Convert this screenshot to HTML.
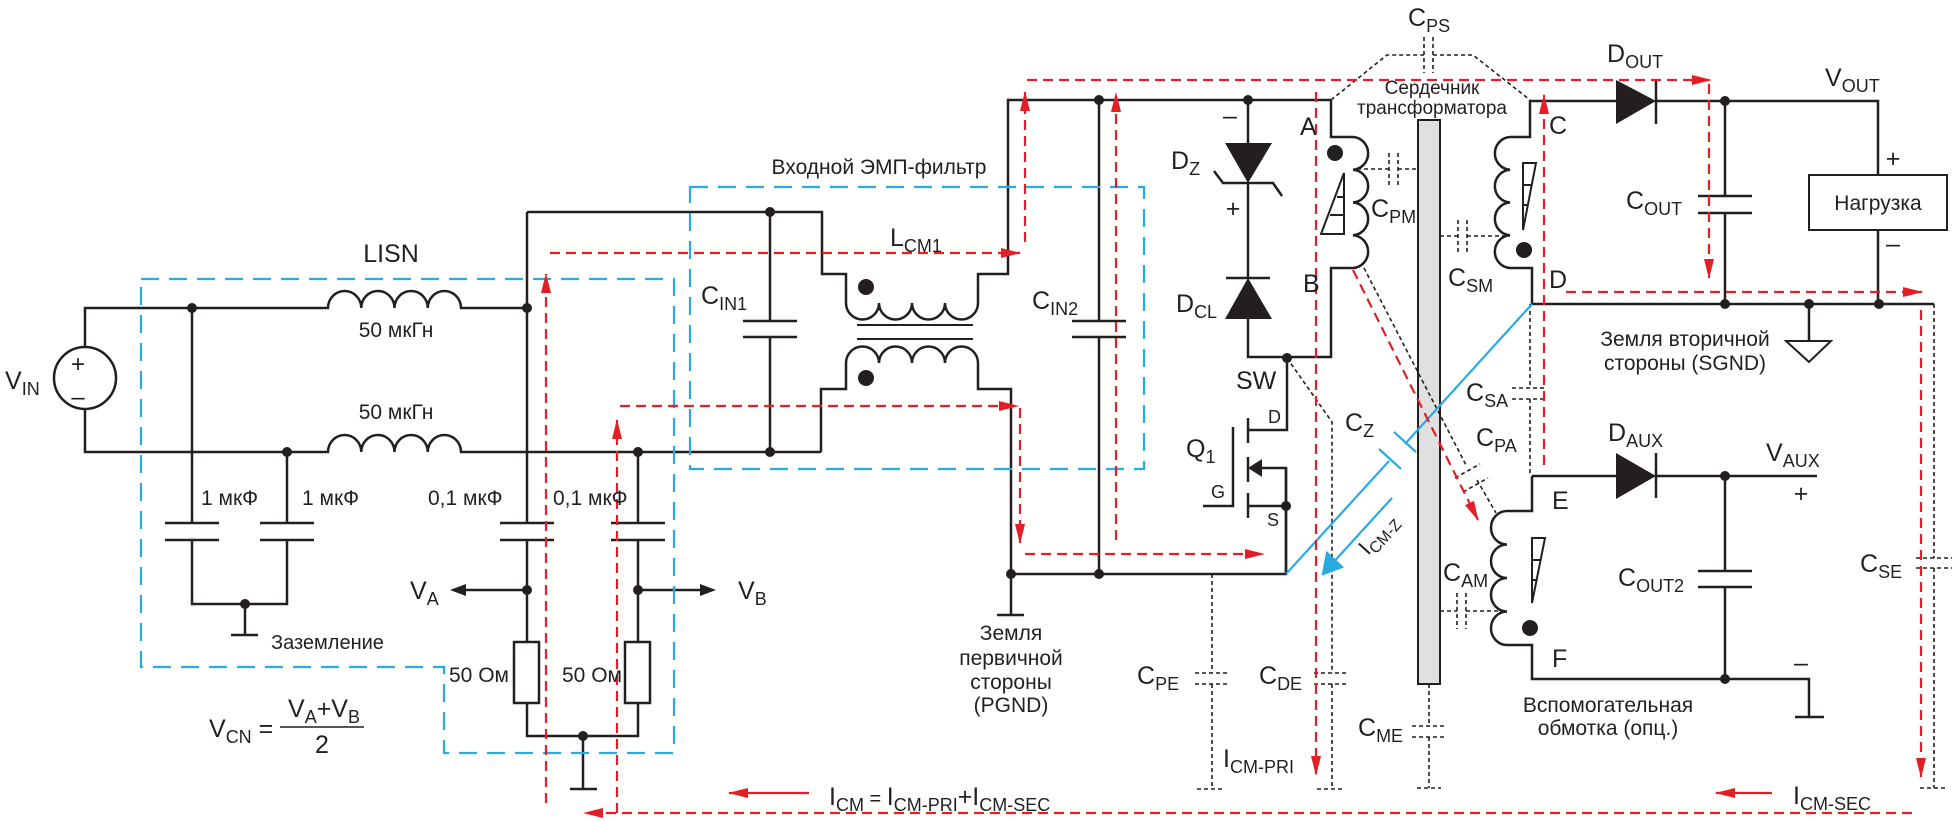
<!DOCTYPE html>
<html><head><meta charset="utf-8"><style>
html,body{margin:0;padding:0;background:#fff}
svg{display:block}
text{font-family:"Liberation Sans","Noto Sans CJK SC",sans-serif;fill:#231f20}
</style></head><body>
<svg width="1954" height="821" viewBox="0 0 1954 821" xmlns="http://www.w3.org/2000/svg">
<defs>
<marker id="ar" viewBox="0 0 20 10" refX="19" refY="5" markerWidth="20" markerHeight="11" markerUnits="userSpaceOnUse" orient="auto"><path d="M0,0 L20,5 L0,10z" fill="#e31e24"/></marker>
</defs>
<g fill="none" stroke="#231f20" stroke-width="2.5">
<circle cx="85" cy="378" r="31"/>
<path d="M85,347 V308 H328 a16.6,17 0 0 1 33.25,0 a16.6,17 0 0 1 33.25,0 a16.6,17 0 0 1 33.25,0 a16.6,17 0 0 1 33.25,0 H527"/>
<path d="M85,409 V452 H328 a16.6,17 0 0 1 33.25,0 a16.6,17 0 0 1 33.25,0 a16.6,17 0 0 1 33.25,0 a16.6,17 0 0 1 33.25,0 H821"/>
<path d="M192,308 V523 M165,523 H219 M165,540 H219 M192,540 V604 H287 V540 M260,540 H314 M260,523 H314 M287,523 V452"/>
<path d="M245,604 V635 M231,635 H258"/>
<path d="M527,212 V523 M500,523 H554 M500,540 H554 M527,540 V642"/>
<path d="M638,452 V523 M611,523 H665 M611,540 H665 M638,540 V642"/>
<rect x="514" y="642" width="25" height="61"/>
<rect x="625" y="642" width="25" height="61"/>
<path d="M527,703 V736 H638 V703 M583,736 V789 M570,789 H597"/>
<path d="M527,590 H462 M638,590 H704"/>
<path d="M527,212 H822 V274 H846 V303 a16.5,16.5 0 0 0 33,0 a16.5,16.5 0 0 0 33,0 a16.5,16.5 0 0 0 33,0 a16.5,16.5 0 0 0 33,0 V274 H1008 V100 H1331"/>
<path d="M770,212 V321 M743,321 H797 M743,337 H797 M770,337 V452"/>
<path d="M857,325 H973 M857,339 H973" stroke-width="2"/>
<path d="M821,452 V389 H846 V363 a16.5,16.5 0 0 1 33,0 a16.5,16.5 0 0 1 33,0 a16.5,16.5 0 0 1 33,0 a16.5,16.5 0 0 1 33,0 V389 H1011 V574 H1286 V468"/>
<path d="M1099,100 V321 M1072,321 H1126 M1072,337 H1126 M1099,337 V574"/>
<path d="M1011,574 V615 M997,615 H1024"/>
<path d="M1248,100 V143 M1248,183 V278 M1248,319 V357 H1331 V268 H1353 a16,16.4 0 0 0 0,-32.75 a16,16.4 0 0 0 0,-32.75 a16,16.4 0 0 0 0,-32.75 a16,16.4 0 0 0 0,-32.75 H1331 V100"/>
<path d="M1214,171 L1223,183 H1273 L1282,196 M1226,278 H1270"/>
<path d="M1287,358 V430 H1248 M1248,418 V443 M1248,457 V482 M1248,493 V518 M1233,427 V506 H1203 M1248,506 H1286 M1256,468 H1286 V574"/>
<path d="M1725,101 H1878 V175 M1878,230 V304 M1532,304 H1934"/>
<path d="M1530,100 V137 H1510 a16,16.4 0 0 0 0,32.75 a16,16.4 0 0 0 0,32.75 a16,16.4 0 0 0 0,32.75 a16,16.4 0 0 0 0,32.75 H1532 V304"/>
<path d="M1530,101 H1616 M1656,101 H1725 M1656,80 V124"/>
<path d="M1725,101 V196 M1698,196 H1752 M1698,213 H1752 M1725,213 V304"/>
<rect x="1809" y="175" width="138" height="55" stroke-width="2"/>
<path d="M1809,304 V341"/>
<path d="M1786,341 H1831 L1809,362 Z" stroke-width="2"/>
<path d="M1532,476 H1616 M1656,476 H1817 M1656,453 V498"/>
<path d="M1532,476 V511 H1507 a16,16.75 0 0 0 0,33.5 a16,16.75 0 0 0 0,33.5 a16,16.75 0 0 0 0,33.5 a16,16.75 0 0 0 0,33.5 H1532 V679 H1809 V717 M1795,717 H1824"/>
<path d="M1725,476 V571 M1698,571 H1752 M1698,587 H1752 M1725,587 V679"/>
</g>
<g fill="#231f20">
<path d="M1225,143 H1272 L1248,183 Z"/>
<path d="M1225,319 H1272 L1248,278 Z"/>
<path d="M1616,80 V124 L1656,101 Z"/>
<path d="M1616,453 V499 L1656,476 Z"/>
<path d="M1248,468 L1262,459 V477 Z"/>
<path d="M450,590 L466,584 V596 Z"/>
<path d="M716,590 L700,584 V596 Z"/>
<circle cx="866" cy="287" r="8"/><circle cx="866" cy="378" r="8"/>
<circle cx="1335" cy="153" r="8"/><circle cx="1524" cy="250" r="8"/><circle cx="1530" cy="628" r="8"/>
<circle cx="192" cy="308" r="5"/><circle cx="527" cy="308" r="5"/><circle cx="287" cy="452" r="5"/>
<circle cx="527" cy="590" r="5"/><circle cx="638" cy="452" r="5"/><circle cx="638" cy="590" r="5"/>
<circle cx="583" cy="736" r="5"/><circle cx="245" cy="604" r="5"/><circle cx="770" cy="212" r="5"/>
<circle cx="770" cy="452" r="5"/><circle cx="1011" cy="574" r="5"/><circle cx="1099" cy="574" r="5"/>
<circle cx="1099" cy="100" r="5"/><circle cx="1248" cy="100" r="5"/><circle cx="1287" cy="358" r="5"/>
<circle cx="1286" cy="506" r="5"/><circle cx="1725" cy="101" r="5"/><circle cx="1725" cy="304" r="5"/>
<circle cx="1809" cy="304" r="5"/><circle cx="1879" cy="304" r="5"/><circle cx="1725" cy="476" r="5"/>
<circle cx="1725" cy="679" r="5"/>
</g>
<rect x="1418" y="120" width="22" height="564" fill="#e0e0e0" stroke="#231f20" stroke-width="2"/>
<g fill="none" stroke="#231f20" stroke-width="2">
<path d="M1344,173 V234 H1321 Z M1330,215 H1344 M1337,197 H1344"/>
<path d="M1523,163 H1536 L1523,230 Z M1523,185 H1532 M1523,205 H1528"/>
<path d="M1532,538 H1545 L1532,603 Z M1532,560 H1541 M1532,580 H1537"/>
</g>
<g fill="none" stroke="#231f20" stroke-width="1.6" stroke-dasharray="4 3">
<path d="M1331,100 L1387,55 H1424 M1433,55 H1473 L1530,100"/>
<path d="M1424,37 V73 M1433,37 V73"/>
<path d="M1357,169 H1389 M1398,169 H1418 M1389,153 V187 M1398,153 V187"/>
<path d="M1440,236 H1458 M1467,236 H1510 M1458,220 V253 M1467,220 V253"/>
<path d="M1440,611 H1457 M1466,611 H1507 M1457,593 V629 M1466,593 V629"/>
<path d="M1429,684 V726 M1429,737 V788 M1412,726 H1446 M1412,737 H1446 M1417,788 H1441"/>
<path d="M1287,358 L1332,422 V673 M1332,684 V789 M1314,673 H1348 M1314,684 H1348 M1317,789 H1345"/>
<path d="M1212,574 V673 M1212,684 V789 M1195,673 H1229 M1195,684 H1229 M1197,789 H1225"/>
<path d="M1530,304 V388 M1530,399 V476 M1512,388 H1547 M1512,399 H1547"/>
<path d="M1364,268 L1467,467 M1477,480 L1496,513 M1455,478 L1480,464 M1463,492 L1488,478"/>
<path d="M1934,304 V558 M1934,568 V788 M1916,558 H1952 M1916,568 H1952 M1920,788 H1948"/>
</g>
<g fill="none" stroke="#29aae1" stroke-width="2.2">
<path d="M1532,304 L1405,444 M1389,461 L1286,574"/>
<path d="M1394,432 L1416,452 M1379,449 L1401,469"/>
<path d="M1392,498 L1330,566"/>
<path d="M1323,574 L1327,553 L1342,567 Z" fill="#29aae1"/>
</g>
<g fill="none" stroke="#29aae1" stroke-width="2.2" stroke-dasharray="18 10">
<path d="M141,279 H674 V753 H444 V667 H141 Z"/>
<path d="M690,187 H1144 V469 H690 Z"/>
</g>
<g fill="none" stroke="#e31e24" stroke-width="2.2" stroke-dasharray="10 6">
<path d="M546,803 V274" marker-end="url(#ar)"/>
<path d="M550,253 H1020" marker-end="url(#ar)"/>
<path d="M1025,242 V92" marker-end="url(#ar)"/>
<path d="M1027,80 H1711" marker-end="url(#ar)"/>
<path d="M617,813 V420" marker-end="url(#ar)"/>
<path d="M620,406 H1018" marker-end="url(#ar)"/>
<path d="M1020,408 V543" marker-end="url(#ar)"/>
<path d="M1025,554 H1264" marker-end="url(#ar)"/>
<path d="M1116,540 V93" marker-end="url(#ar)"/>
<path d="M1316,92 V775" marker-end="url(#ar)"/>
<path d="M1353,270 L1478,520" marker-end="url(#ar)"/>
<path d="M1544,465 V95" marker-end="url(#ar)"/>
<path d="M1709,84 V278" marker-end="url(#ar)"/>
<path d="M1566,292 H1922" marker-end="url(#ar)"/>
<path d="M1921,310 V777" marker-end="url(#ar)"/>
<path d="M1912,813 H584" marker-end="url(#ar)"/>
</g>
<g fill="none" stroke="#e31e24" stroke-width="2.2">
<path d="M809,793 H729" marker-end="url(#ar)"/>
<path d="M1772,793 H1716" marker-end="url(#ar)"/>
</g>
<g font-size="25">
<text x="5" y="389">V<tspan font-size="18" dy="6">IN</tspan></text>
<text x="78" y="372" font-size="24" text-anchor="middle">+</text>
<text x="78" y="405" font-size="24" text-anchor="middle">–</text>
<text x="410" y="599">V<tspan font-size="18" dy="6">A</tspan></text>
<text x="738" y="599">V<tspan font-size="18" dy="6">B</tspan></text>
<text x="209" y="737">V<tspan font-size="18" dy="6">CN</tspan><tspan dy="-6"> =</tspan></text>
<text x="324" y="717" text-anchor="middle">V<tspan font-size="18" dy="6">A</tspan><tspan dy="-6">+V</tspan><tspan font-size="18" dy="6">B</tspan></text>
<text x="322" y="753" text-anchor="middle">2</text>
<text x="701" y="304">C<tspan font-size="18" dy="6">IN1</tspan></text>
<text x="890" y="246">L<tspan font-size="18" dy="6">CM1</tspan></text>
<text x="1032" y="309">C<tspan font-size="18" dy="6">IN2</tspan></text>
<text x="1137" y="684">C<tspan font-size="18" dy="6">PE</tspan></text>
<text x="1259" y="684">C<tspan font-size="18" dy="6">DE</tspan></text>
<text x="1358" y="736">C<tspan font-size="18" dy="6">ME</tspan></text>
<text x="1236" y="389">SW</text>
<text x="1186" y="457">Q<tspan font-size="18" dy="6">1</tspan></text>
<text x="1171" y="169">D<tspan font-size="18" dy="6">Z</tspan></text>
<text x="1176" y="312">D<tspan font-size="18" dy="6">CL</tspan></text>
<text x="1230" y="124" text-anchor="middle">–</text>
<text x="1233" y="217" text-anchor="middle">+</text>
<text x="1300" y="135">A</text>
<text x="1303" y="292">B</text>
<text x="1408" y="26">C<tspan font-size="18" dy="6">PS</tspan></text>
<text x="1371" y="217">C<tspan font-size="18" dy="6">PM</tspan></text>
<text x="1448" y="286">C<tspan font-size="18" dy="6">SM</tspan></text>
<text x="1549" y="134">C</text>
<text x="1549" y="288">D</text>
<text x="1607" y="62">D<tspan font-size="18" dy="6">OUT</tspan></text>
<text x="1825" y="86">V<tspan font-size="18" dy="6">OUT</tspan></text>
<text x="1626" y="209">C<tspan font-size="18" dy="6">OUT</tspan></text>
<text x="1893" y="167" text-anchor="middle">+</text>
<text x="1893" y="252" text-anchor="middle">–</text>
<text x="1466" y="401">C<tspan font-size="18" dy="6">SA</tspan></text>
<text x="1476" y="446">C<tspan font-size="18" dy="6">PA</tspan></text>
<text x="1608" y="441">D<tspan font-size="18" dy="6">AUX</tspan></text>
<text x="1766" y="461">V<tspan font-size="18" dy="6">AUX</tspan></text>
<text x="1801" y="502" text-anchor="middle">+</text>
<text x="1552" y="509">E</text>
<text x="1618" y="586">C<tspan font-size="18" dy="6">OUT2</tspan></text>
<text x="1801" y="671" text-anchor="middle">–</text>
<text x="1443" y="581">C<tspan font-size="18" dy="6">AM</tspan></text>
<text x="1552" y="667">F</text>
<text x="1860" y="572">C<tspan font-size="18" dy="6">SE</tspan></text>
<text x="1223" y="767" fill="#e31e24">I<tspan font-size="18" dy="6">CM-PRI</tspan></text>
<text x="829" y="805" fill="#e31e24">I<tspan font-size="18" dy="6">CM</tspan><tspan font-size="20" dy="-6"> = </tspan>I<tspan font-size="18" dy="6">CM-PRI</tspan><tspan dy="-6">+I</tspan><tspan font-size="18" dy="6">CM-SEC</tspan></text>
<text x="1793" y="804" fill="#e31e24">I<tspan font-size="18" dy="6">CM-SEC</tspan></text>
<text x="1345" y="431" fill="#29aae1">C<tspan font-size="18" dy="6">Z</tspan></text>
<text transform="translate(1368,556) rotate(-48)" font-size="22" fill="#29aae1">I<tspan font-size="16" dy="5">CM-Z</tspan></text>
</g>
<g font-size="18">
<text x="1268" y="423">D</text>
<text x="1211" y="498">G</text>
<text x="1267" y="526">S</text>
</g>
<g font-size="21">
<text x="391" y="262" font-size="25" text-anchor="middle" fill="#29aae1">LISN</text>
<text x="396" y="337" text-anchor="middle">50 мкГн</text>
<text x="396" y="419" text-anchor="middle">50 мкГн</text>
<text x="201" y="505">1 мкФ</text>
<text x="302" y="505">1 мкФ</text>
<text x="428" y="505">0,1 мкФ</text>
<text x="553" y="505">0,1 мкФ</text>
<text x="271" y="649" font-size="20">Заземление</text>
<text x="449" y="682">50 Ом</text>
<text x="562" y="682">50 Ом</text>
<text x="879" y="174" text-anchor="middle" fill="#29aae1">Входной ЭМП-фильтр</text>
<text x="1011" y="640" text-anchor="middle">Земля</text>
<text x="1011" y="665" text-anchor="middle">первичной</text>
<text x="1011" y="689" text-anchor="middle">стороны</text>
<text x="1011" y="712" text-anchor="middle">(PGND)</text>
<text x="1432" y="94" font-size="19" text-anchor="middle">Сердечник</text>
<text x="1432" y="114" font-size="19" text-anchor="middle">трансформатора</text>
<text x="1878" y="210" text-anchor="middle">Нагрузка</text>
<text x="1685" y="346" text-anchor="middle">Земля вторичной</text>
<text x="1685" y="370" text-anchor="middle">стороны (SGND)</text>
<text x="1608" y="712" text-anchor="middle" fill="#1a9a50">Вспомогательная</text>
<text x="1608" y="735" text-anchor="middle" fill="#1a9a50">обмотка (опц.)</text>
</g>
<line x1="280" y1="727" x2="364" y2="727" stroke="#231f20" stroke-width="1.5"/>
</svg>
</body></html>
